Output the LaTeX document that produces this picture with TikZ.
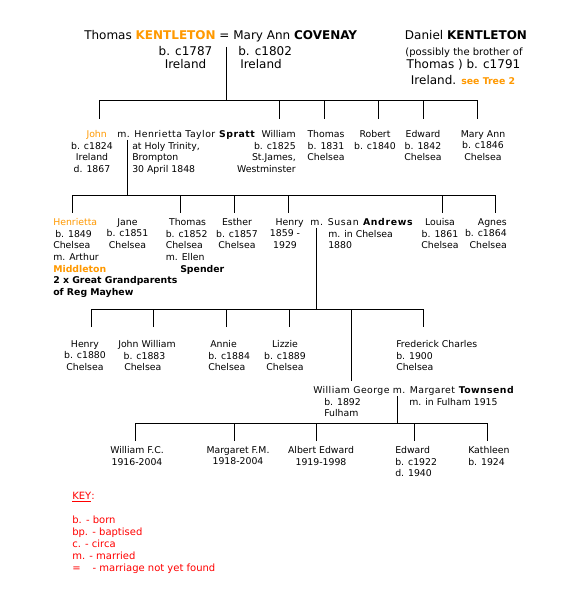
\documentclass[tikz,border=0pt]{standalone}
\usepackage{fontspec}
\setmainfont{DejaVu Sans}
\definecolor{korange}{RGB}{255,153,0}
\definecolor{kred}{RGB}{255,0,0}
\newcommand{\bodyf}{\fontsize{7pt}{8.7pt}\selectfont}
\newcommand{\topf}{\fontsize{9pt}{9.75pt}\selectfont}
\newcommand{\keyf}{\fontsize{7.5pt}{9pt}\selectfont}
\newcommand{\smallf}{\fontsize{7.5pt}{9pt}\selectfont}
\newcommand{\spreadit}[1]{\addfontfeature{LetterSpace=#1}}
\begin{document}
\begin{tikzpicture}[x=0.75pt,y=-0.75pt,
  pc/.style={font=\bodyf,align=center,inner sep=0pt,anchor=north},
  pl/.style={font=\bodyf,align=left,inner sep=0pt,anchor=north west},
  pr/.style={font=\bodyf,align=right,inner sep=0pt,anchor=north east},
  tb/.style={font=\topf,inner sep=0pt,anchor=base},
  link/.style={draw=black,line width=0.75pt},
  keytext/.style={font=\keyf,text=kred,align=left,inner sep=0pt,anchor=north west}]
\useasboundingbox (0,0) rectangle (569,598);
\fill[white] (0,0) rectangle (569,598);

% ---- generation 1
\node[tb,anchor=base west] (parents1) at (84,39.4) {Thomas \textcolor{korange}{\textbf{KENTLETON}} = Mary Ann \textbf{COVENAY}};
\node[font=\topf,align=center,inner sep=0pt,anchor=north] (thomas1) at (185.5,46.3) {b. c1787\\Ireland};
\node[font=\topf,align=left,inner sep=0pt,anchor=north west] (mary1) at (238,46.3) {b. c1802\\\hspace*{1.5pt}Ireland};
\node[tb] (daniel1) at (466,39.4) {Daniel \textbf{KENTLETON}};
\node[tb,font=\smallf] (daniel2) at (464,55.6) {(possibly the brother of};
\node[tb] (daniel3) at (463.5,68.4) {Thomas ) b. c1791};
\node[tb] (daniel4) at (463,84.4) {Ireland. {\fontsize{7pt}{8pt}\selectfont\textcolor{korange}{\textbf{see Tree 2}}}};

% ---- generation 2
\node[pc] (john) at (92,130.3) {\hspace*{7pt}\textcolor{korange}{John}\\b. c1824\\Ireland\\d. 1867};
\node[pl] (jm1) at (117,130.3) {\spreadit{5}m. Henrietta Taylor \textbf{Spratt}};
\node[pl] (jm2) at (132,141.9) {at Holy Trinity,\\Brompton\\30 April 1848};
\node[pr] (william) at (296,130.3) {William\\b. c1825\\St.James,\\Westminster};
\node[pc] (thomas2) at (326,130.3) {Thomas\\b. 1831\\Chelsea};
\node[pc] (robert) at (375,130.3) {Robert\\b. c1840};
\node[pc] (edward2) at (423,130.3) {Edward\\b. 1842\\Chelsea};
\node[pc] (maryann) at (483,130.3) {Mary Ann\\b. c1846\\Chelsea};

\coordinate (m1) at (226,47);
\coordinate (d-john) at (99,119);
\coordinate (d-william) at (279,119);
\coordinate (d-thomas) at (324,119);
\coordinate (d-robert) at (378,119);
\coordinate (d-edward) at (423,119);
\coordinate (d-maryann) at (477,119);
\draw[link] (m1) -- ++(0,54);
\draw[link] (d-john) -- ++(0,-18) -| (d-maryann);
\foreach \n in {william,thomas,robert,edward} \draw[link] (d-\n) -- ++(0,-18);

% ---- generation 3
\node[pl] (henrietta) at (53,218.3) {\textcolor{korange}{Henrietta}\\\hspace*{1.5pt}b. 1849\\Chelsea\\m. Arthur\\\textcolor{korange}{\textbf{Middleton}}\\\textbf{2 x Great Grandparents}\\\textbf{of Reg Mayhew}};
\node[pc] (jane) at (127.5,218.3) {Jane\\b. c1851\\Chelsea};
\node[pl] (thomas3) at (165.5,218.3) {\hspace*{2.5pt}Thomas\\b. c1852\\Chelsea\\m. Ellen};
\node[pl] (spender) at (180,265.3) {\textbf{Spender}};
\node[pc] (esther) at (237,218.3) {Esther\\b. c1857\\Chelsea};
\node[pc] (henry3) at (285,218.3) {\hspace*{7pt}Henry\\1859 -\\1929};
\node[pl] (hm1) at (310,218.3) {\spreadit{7}m. Susan \textbf{Andrews}};
\node[pl] (hm2) at (328,229.9) {m. in Chelsea\\1880};
\node[pc] (louisa) at (440,218.3) {Louisa\\b. 1861\\Chelsea};
\node[pr] (agnes) at (507,218.3) {Agnes\\b. c1864\\Chelsea};

\coordinate (m2) at (127,140);
\coordinate (d-henrietta) at (72,213);
\coordinate (d-thomas3) at (180,213);
\coordinate (d-esther) at (234,213);
\coordinate (d-henry3) at (288,213);
\coordinate (d-louisa) at (442,213);
\coordinate (d-agnes) at (495,213);
\draw[link] (m2) -- ++(0,56);
\draw[link] (d-henrietta) -- ++(0,-17) -| (d-agnes);
\foreach \n in {thomas3,esther,henry3,louisa} \draw[link] (d-\n) -- ++(0,-17);

% ---- generation 4
\node[pc] (henry4) at (85,340.3) {Henry\\b. c1880\\Chelsea};
\node[pl] (johnw) at (118,340.3) {John William\\\hspace*{4pt}b. c1883\\\hspace*{4.5pt}Chelsea};
\node[pl] (annie) at (208,340.3) {\hspace*{1.5pt}Annie\\b. c1884\\Chelsea};
\node[pc] (lizzie) at (285,340.3) {Lizzie\\b. c1889\\Chelsea};
\node[pl] (fred) at (396,340.3) {Frederick Charles\\b. 1900\\Chelsea};
\node[pl] (wg1) at (313,386.3) {\spreadit{4.5}William George m. Margaret \textbf{Townsend}};
\node[pl] (wg2) at (324,397.9) {b. 1892\\Fulham};
\node[pl] (wg3) at (409,397.9) {m. in Fulham 1915};

\coordinate (m3) at (316,228);
\coordinate (d-henry4) at (91,327);
\coordinate (d-johnw) at (153,327);
\coordinate (d-annie) at (226,327);
\coordinate (d-lizzie) at (289,327);
\coordinate (d-wg) at (351,381);
\coordinate (d-fred) at (423,327);
\draw[link] (m3) -- ++(0,81);
\draw[link] (d-henry4) -- ++(0,-18) -| (d-fred);
\foreach \n in {johnw,annie,lizzie} \draw[link] (d-\n) -- ++(0,-18);
\draw[link] (d-wg) -- ++(0,-72);

% ---- generation 5
\node[pc] (wfc) at (137,446.3) {William F.C.\\1916-2004};
\node[pc] (mfm) at (238,446.3) {Margaret F.M.\\1918-2004};
\node[pc] (albert) at (321,446.3) {Albert Edward\\1919-1998};
\node[pl] (edward5) at (395,446.3) {Edward\\b. c1922\\d. 1940};
\node[pl] (kathleen) at (468,446.3) {Kathleen\\b. 1924};

\coordinate (m4) at (397,396);
\coordinate (d-wfc) at (135,441);
\coordinate (d-mfm) at (234,441);
\coordinate (d-albert) at (316,441);
\coordinate (d-edward5) at (414,441);
\coordinate (d-kathleen) at (487,441);
\draw[link] (m4) -- ++(0,27);
\draw[link] (d-wfc) -- ++(0,-18) -| (d-kathleen);
\foreach \n in {mfm,albert,edward5} \draw[link] (d-\n) -- ++(0,-18);

% ---- key
\node[keytext] (keyhead) at (72,491.8) {\underline{KEY}:};
\node[keytext] (keylist) at (72,515.8) {b. - born\\bp. - baptised\\c. - circa\\m. - married\\=\hspace*{9pt}- marriage not yet found};
\end{tikzpicture}
\end{document}
